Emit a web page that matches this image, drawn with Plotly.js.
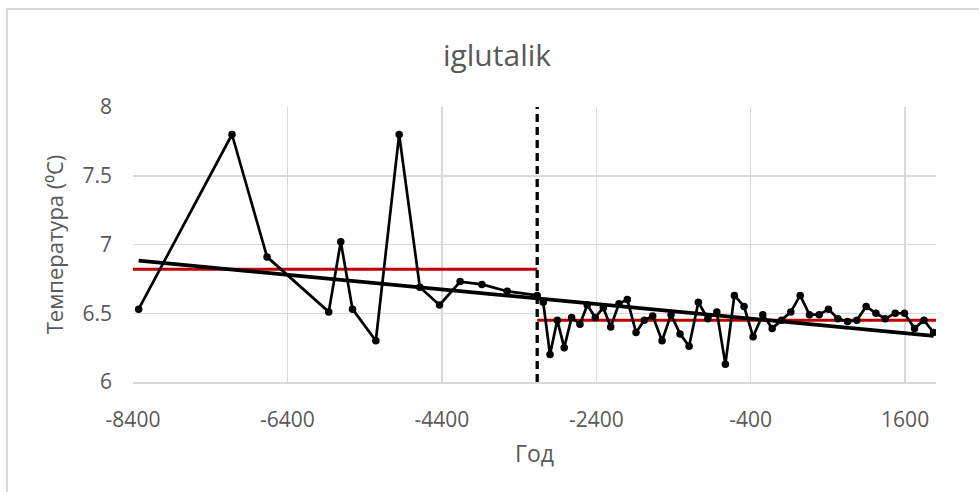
<!DOCTYPE html>
<html>
<head>
<meta charset="utf-8">
<script src="https://cdn.plot.ly/plotly-3.0.1.min.js"></script>
<style>
  html, body { margin: 0; padding: 0; background: #ffffff; overflow: hidden; }
  #chart { position: absolute; left: 0; top: 0; width: 979px; height: 492px; }
  #frame { position: absolute; left: 6px; top: 8px; width: 1000px; height: 600px;
           border: 2px solid #d9d9d9; pointer-events: none; }
</style>
</head>
<body>
<div id="frame"></div>
<div id="chart"></div>
<script>
// ---- data ----
const years = [-8327, -7118, -6664, -5865, -5709, -5557, -5255, -4953, -4685, -4430,
  -4163, -3881, -3554, -3165, -3087, -2999, -2905, -2815, -2719, -2611,
  -2517, -2413, -2309, -2213, -2106, -1998, -1885, -1778, -1669, -1548,
  -1432, -1315, -1198, -1078, -956, -839, -728, -611, -486, -369,
  -243, -122, 0, 120, 241, 361, 487, 607, 729, 854,
  975, 1096, 1222, 1342, 1472, 1592, 1722, 1844, 1968];
const temps = [6.53, 7.80, 6.91, 6.51, 7.02, 6.53, 6.30, 7.80, 6.69, 6.56,
  6.73, 6.71, 6.66, 6.63, 6.58, 6.20, 6.45, 6.25, 6.47, 6.42,
  6.56, 6.47, 6.54, 6.40, 6.57, 6.60, 6.36, 6.45, 6.48, 6.30,
  6.49, 6.35, 6.26, 6.58, 6.46, 6.51, 6.13, 6.63, 6.55, 6.33,
  6.49, 6.39, 6.45, 6.51, 6.63, 6.49, 6.49, 6.53, 6.46, 6.44,
  6.45, 6.55, 6.50, 6.46, 6.50, 6.50, 6.39, 6.45, 6.36];
const splitYear = -3165;
const meanBeforeX = [-8400, splitYear];
const meanBeforeY = [6.82, 6.82];
const meanAfterX = [splitYear, 2000];
const meanAfterY = [6.45, 6.45];
const trendX = [-8327, 1968];
const trendY = [6.882, 6.335];
const xTicks = [-8400, -6400, -4400, -2400, -400, 1600];
const yTicks = [6, 6.5, 7, 7.5, 8];
const xRange = [-8400, 2000];
const yRange = [6, 8];

const textColor = '#595959';
const gridColor = '#d9d9d9';
const font = 'Open Sans, Noto Sans, sans-serif';

const traces = [
  { x: meanBeforeX, y: meanBeforeY, mode: 'lines', line: { color: '#c00000', width: 3 }, hoverinfo: 'skip' },
  { x: meanAfterX, y: meanAfterY, mode: 'lines', line: { color: '#c00000', width: 3 }, hoverinfo: 'skip' },
  { x: [splitYear, splitYear], y: yRange, mode: 'lines', line: { color: '#000000', width: 3.3, dash: '8px,5px' }, hoverinfo: 'skip' },
  { x: years, y: temps, mode: 'lines+markers', line: { color: '#000000', width: 2.7 },
    marker: { color: '#000000', size: 7.5 } },
  { x: trendX, y: trendY, mode: 'lines', line: { color: '#000000', width: 3.8 }, hoverinfo: 'skip' }
];

const layout = {
  width: 979, height: 492,
  margin: { l: 133, r: 43, t: 107, b: 110 },
  paper_bgcolor: 'rgba(0,0,0,0)',
  plot_bgcolor: '#ffffff',
  showlegend: false,
  font: { family: font, color: textColor },
  title: { text: 'iglutalik', x: 497 / 979, xref: 'container', xanchor: 'center',
           y: 1 - 55 / 492, yref: 'container', yanchor: 'middle',
           font: { family: font, size: 30, color: textColor } },
  xaxis: {
    range: xRange, tickvals: xTicks, ticktext: xTicks.map(String),
    showgrid: true, gridcolor: gridColor, gridwidth: 1.5,
    showline: true, linecolor: gridColor, linewidth: 1.5,
    zeroline: false, ticks: '', ticklabelstandoff: 18,
    tickfont: { family: font, size: 21, color: textColor },
    title: { text: 'Год', standoff: 14, font: { family: font, size: 23, color: textColor } }
  },
  yaxis: {
    range: yRange, tickvals: yTicks, ticktext: ['6', '6.5', '7', '7.5', '8'],
    showgrid: true, gridcolor: gridColor, gridwidth: 1.5,
    showline: false, zeroline: false, ticks: '', ticklabelstandoff: 20,
    tickfont: { family: font, size: 21, color: textColor },
    title: { text: 'Температура (⁰C)', standoff: 12, font: { family: font, size: 22, color: textColor } }
  }
};

Plotly.newPlot('chart', traces, layout, { displayModeBar: false, staticPlot: true });
</script>
</body>
</html>
